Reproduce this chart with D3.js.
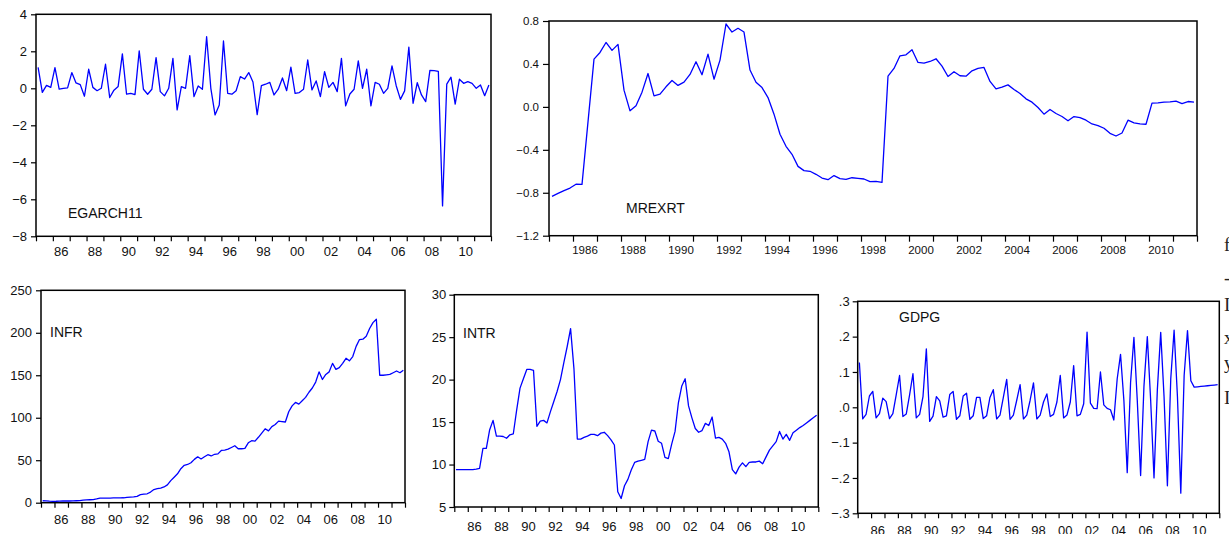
<!DOCTYPE html>
<html>
<head>
<meta charset="utf-8">
<script src="https://cdn.jsdelivr.net/npm/d3@7"></script>
<style>
  html, body { margin: 0; padding: 0; background: #fff; overflow: hidden; }
  svg { display: block; }
  .tick text { font-family: "Liberation Sans", Arial, sans-serif; fill: #111; }
</style>
</head>
<body>
<div id="chart"></div>
<script>
// quarterly observations, 1985Q1 .. 2011Q4
const startYear = 1985;
const endYear = 2012;

const egarch = [1.135,-0.22,0.16,0.05,1.12,-0.04,0,0.02,0.85,0.29,
  0.2,-0.43,1.03,0.05,-0.13,0,1.3,-0.5,-0.1,0.1,
  1.86,-0.32,-0.27,-0.34,2.02,-0.05,-0.32,-0.05,1.66,-0.18,
  -0.41,0,1.62,-1.17,0.09,0,1.77,-0.45,0.13,-0.05,
  2.79,0,-1.44,-0.9,2.56,-0.27,-0.32,-0.13,0.63,0.5,
  0.85,0.34,-1.42,0.14,0.22,0.32,-0.36,-0.05,0.56,-0.13,
  1.14,-0.27,-0.23,-0.05,1.53,-0.09,0.4,-0.45,0.9,0.05,
  0.32,-0.18,1.62,-0.95,-0.31,-0.05,1.48,0,1.03,-0.95,
  0.32,0.22,-0.27,0,1.21,0.14,-0.6,-0.14,2.23,-0.81,
  0.3,-0.36,-0.72,0.97,0.95,0.92,-6.36,0.23,0.6,-0.86,
  0.49,0.27,0.36,0.27,0,0.18,-0.4,0.18];

const mrexrt = [-0.834,-0.806,-0.78,-0.756,-0.72,-0.722,-0.14,0.445,0.507,0.60,
  0.526,0.582,0.156,-0.037,0.01,0.137,0.311,0.103,0.118,0.187,
  0.246,0.2,0.23,0.302,0.42,0.299,0.492,0.258,0.436,0.772,
  0.697,0.732,0.697,0.343,0.23,0.18,0.087,-0.068,-0.255,-0.367,
  -0.442,-0.554,-0.594,-0.6,-0.628,-0.663,-0.678,-0.64,-0.669,-0.675,
  -0.66,-0.666,-0.672,-0.697,-0.694,-0.703,0.286,0.358,0.476,0.485,
  0.532,0.414,0.408,0.423,0.448,0.38,0.283,0.327,0.29,0.286,
  0.336,0.358,0.367,0.237,0.168,0.184,0.205,0.162,0.125,0.075,
  0.044,-0.006,-0.068,-0.024,-0.062,-0.09,-0.13,-0.09,-0.1,-0.124,
  -0.159,-0.174,-0.199,-0.246,-0.271,-0.243,-0.124,-0.149,-0.159,-0.162,
  0.035,0.038,0.044,0.047,0.053,0.031,0.05,0.044];

const infr = [2.3,2.2,1.8,1.6,1.7,1.9,2.0,2.0,2.0,2.1,
  2.3,2.5,3.0,3.4,3.5,3.6,4.5,5.5,5.3,5.4,
  5.5,5.6,5.6,5.7,5.8,6.2,6.5,6.8,7.5,9.5,
  10.0,10.5,12.5,15.5,16.5,17.2,18.5,21,26,30,
  34,40,44,45,47,51,54,51.5,54,56.5,
  55,57,57.5,61.5,62,63,65,67,63.5,63.5,
  64,70.5,73,72.5,77,82,87,84.5,89.5,92,
  96,95.5,95,107,114,118,116,120,124,130,
  135,142,154,145,151,154,164,157,159,164,
  170,167,172,184,192,192.5,196,205,212,216,
  150,150,150.5,151,153,155,153,156];

const intr = [9.4,9.4,9.4,9.4,9.4,9.4,9.45,9.55,11.9,11.9,
  14.1,15.2,13.35,13.35,13.3,13.1,13.5,13.6,16.4,19.0,
  20.1,21.2,21.2,21.1,14.5,15.1,15.2,14.9,16.2,17.4,
  18.6,20.0,22.0,23.9,26.0,21.3,13.0,13.0,13.2,13.35,
  13.55,13.55,13.4,13.7,13.8,13.4,12.9,12.3,6.8,6.0,
  7.5,8.25,9.35,10.25,10.4,10.5,10.6,12.7,14.05,13.95,
  12.75,12.5,10.85,10.7,12.4,13.9,17.3,19.25,20.1,16.9,
  15.5,14.25,13.8,14.0,14.85,14.6,15.6,13.1,13.2,13.0,
  12.5,11.5,9.4,8.9,9.7,10.2,9.75,10.25,10.3,10.3,
  10.4,10.1,10.9,11.7,12.2,12.7,13.9,13.0,13.55,12.85,
  13.75,14.05,14.35,14.6,14.9,15.2,15.5,15.8];

const gdpg = [0.127,-0.033,-0.02,0.032,0.045,-0.03,-0.018,0.026,0.016,-0.032,
  -0.018,0.035,0.09,-0.026,-0.019,0.035,0.095,-0.03,-0.02,0.03,
  0.165,-0.04,-0.025,0.03,0.018,-0.028,-0.024,0.036,0.045,-0.034,
  -0.024,0.032,0.04,-0.034,-0.024,0.028,0.028,-0.032,-0.024,0.028,
  0.05,-0.033,-0.022,0.028,0.079,-0.034,-0.022,0.02,0.064,-0.033,
  -0.022,0.02,0.069,-0.033,-0.022,0.015,0.038,-0.026,-0.02,0.015,
  0.09,-0.03,-0.022,0.015,0.118,-0.024,-0.02,0.01,0.213,0.012,
  -0.003,-0.004,0.1,0.007,-0.003,-0.007,-0.036,0.08,0.15,0.02,
  -0.185,0.07,0.198,0.02,-0.193,0.06,0.2,0.02,-0.2,0.05,
  0.212,0.03,-0.222,0.08,0.218,0.03,-0.243,0.09,0.217,0.075,
  0.057,0.058,0.059,0.06,0.061,0.062,0.063,0.064];

// tick values
const yearTicks = d3.range(startYear, endYear + 1);
const labelYears = d3.range(1986, 2011, 2);
const egarchTicks = [-8, -6, -4, -2, 0, 2, 4];
const mrexrtTicks = [-1.2, -0.8, -0.4, 0.0, 0.4, 0.8];
const infrTicks = [0, 50, 100, 150, 200, 250];
const intrTicks = [5, 10, 15, 20, 25, 30];
const gdpgTicks = [-0.3, -0.2, -0.1, 0.0, 0.1, 0.2, 0.3];

const W = 1229, H = 534;
const svg = d3.select("#chart").append("svg")
  .attr("width", W).attr("height", H);

function twoDigit(y) { return String(y % 100).padStart(2, "0"); }
function noLead(v) {
  let s = d3.format(".1f")(v);
  return s.replace("0.", ".");
}

function panel(opt) {
  const x = d3.scaleLinear().domain([startYear, endYear]).range([opt.left, opt.right]);
  const y = d3.scaleLinear().domain(opt.domain).range([opt.bottom, opt.top]);
  const g = svg.append("g");

  // y axis
  const ya = g.append("g")
    .attr("transform", `translate(${opt.left},0)`)
    .call(d3.axisLeft(y).tickValues(opt.ticks).tickSize(opt.tick || 5)
      .tickPadding(opt.ypad || 4).tickFormat(opt.yfmt));
  ya.select(".domain").remove();
  ya.selectAll("text").style("font-size", (opt.yfont || 13) + "px");

  // x axis: ticks on year boundaries, labels mid-year
  const xa = g.append("g")
    .attr("transform", `translate(0,${opt.bottom})`)
    .call(d3.axisBottom(x).tickValues(yearTicks).tickSize(opt.tick || 5).tickFormat(""));
  xa.select(".domain").remove();
  g.append("g").selectAll("text")
    .data(labelYears).enter().append("text")
    .attr("x", d => x(d + 0.5))
    .attr("y", opt.bottom + (opt.xlabOff || 20))
    .attr("text-anchor", "middle")
    .style("font-family", '"Liberation Sans", Arial, sans-serif')
    .style("font-size", (opt.xfont || 13) + "px")
    .attr("fill", "#111")
    .text(opt.xfmt);

  g.selectAll(".tick line").attr("stroke", "#000").attr("stroke-width", 1.2);

  // series line
  const line = d3.line()
    .x((d, i) => x(startYear + (i + 0.5) / 4))
    .y(d => y(d));
  g.append("path")
    .datum(opt.values)
    .attr("d", line)
    .attr("fill", "none")
    .attr("stroke", "#0000ff")
    .attr("stroke-width", 1.3)
    .attr("stroke-linejoin", "round");

  // frame
  g.append("rect")
    .attr("x", opt.left).attr("y", opt.top)
    .attr("width", opt.right - opt.left).attr("height", opt.bottom - opt.top)
    .attr("fill", "none").attr("stroke", "#000").attr("stroke-width", 1.5);

  g.append("text")
    .attr("x", opt.nameX).attr("y", opt.nameY)
    .style("font-family", '"Liberation Sans", Arial, sans-serif')
    .style("font-size", "14px")
    .attr("fill", "#111")
    .text(opt.name);
}

panel({ name: "EGARCH11", values: egarch, domain: [-8, 4], ticks: egarchTicks,
  left: 36, right: 491, top: 14.3, bottom: 236.3, yfmt: d3.format("d"),
  xfmt: twoDigit, nameX: 68, nameY: 218, xlabOff: 20 });

panel({ name: "MREXRT", values: mrexrt, domain: [-1.2, 0.8], ticks: mrexrtTicks,
  left: 549, right: 1197, top: 21, bottom: 235.7, yfmt: d3.format(".1f"),
  xfmt: d => String(d), nameX: 626, nameY: 213, tick: 6, ypad: 4,
  yfont: 11.5, xfont: 11.5, xlabOff: 18 });

panel({ name: "INFR", values: infr, domain: [0, 250], ticks: infrTicks,
  left: 41, right: 405, top: 290.3, bottom: 502.7, yfmt: d3.format("d"),
  xfmt: twoDigit, nameX: 50, nameY: 337, xlabOff: 21 });

panel({ name: "INTR", values: intr, domain: [5, 30], ticks: intrTicks,
  left: 454.3, right: 818.3, top: 294.7, bottom: 507, yfmt: d3.format("d"),
  xfmt: twoDigit, nameX: 463, nameY: 338, ypad: 3, xlabOff: 24 });

panel({ name: "GDPG", values: gdpg, domain: [-0.3, 0.3], ticks: gdpgTicks,
  left: 857.7, right: 1219.3, top: 301.3, bottom: 513.3, yfmt: noLead,
  xfmt: twoDigit, nameX: 899, nameY: 322, ypad: 3, xlabOff: 22 });

// clipped text fragments of the surrounding page at the right edge
const edgeText = [["f", 251], ["-", 284], ["I", 311], ["x", 344], ["y", 369], ["I", 404]];
svg.append("g").selectAll("text").data(edgeText).enter().append("text")
  .attr("x", 1224).attr("y", d => d[1])
  .style("font-family", '"Liberation Serif", serif')
  .style("font-size", "19px")
  .attr("fill", "#222")
  .text(d => d[0]);
</script>
</body>
</html>
